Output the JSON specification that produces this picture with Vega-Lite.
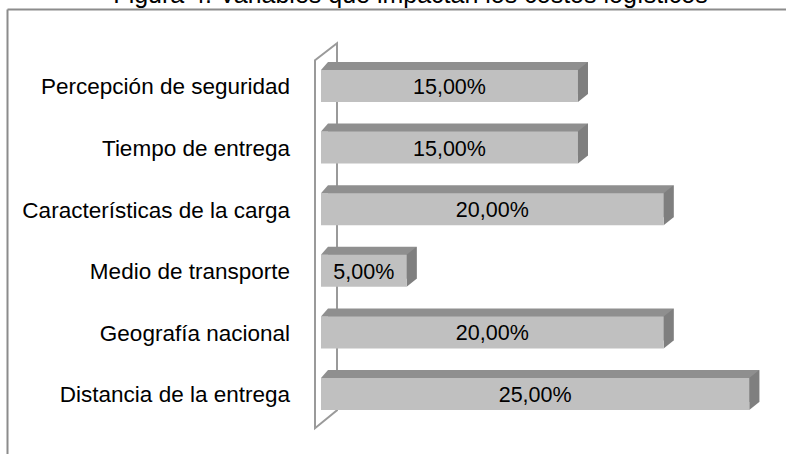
{
  "$schema": "https://vega.github.io/schema/vega-lite/v6.json",
  "autosize": {"type": "none"},
  "padding": {"left": 7, "top": 9, "right": 0, "bottom": 0},
  "width": 779,
  "height": 445,
  "background": "white",
  "title": {
    "text": "Figura 4. Variables que impactan los costos logísticos",
    "fontSize": 25,
    "font": "Liberation Sans",
    "fontWeight": "normal",
    "color": "#000000",
    "anchor": "middle",
    "baseline": "alphabetic",
    "offset": 0,
    "dy": 18.5,
    "dx": 14
  },
  "config": {
    "font": "Liberation Sans",
    "view": {"stroke": null},
    "locale": {"number": {"decimal": ",", "thousands": ".", "grouping": [3], "currency": ["", " €"]}}
  },
  "data": {
    "values": [
      {"variable": "Percepción de seguridad\u2002", "valor": 0.15},
      {"variable": "Tiempo de entrega", "valor": 0.15},
      {"variable": "Características de la carga", "valor": 0.20},
      {"variable": "Medio de transporte", "valor": 0.05},
      {"variable": "Geografía nacional", "valor": 0.20},
      {"variable": "Distancia de la entrega", "valor": 0.25}
    ]
  },
  "encoding": {
    "y": {
      "field": "variable",
      "type": "nominal",
      "sort": null,
      "title": null,
      "scale": {
        "domain": ["Percepción de seguridad\u2002", "Tiempo de entrega", "Características de la carga", "Medio de transporte", "Geografía nacional", "Distancia de la entrega"],
        "paddingInner": 0,
        "paddingOuter": 0.612,
        "align": 0.6127
      },
      "axis": {"orient": "left", "domain": true, "domainColor": "#8c8c8c", "domainWidth": 2, "labels": false, "ticks": false, "grid": false, "title": null}
    }
  },
  "layer": [
    {
      "layer": [
        {
          "data": {"values": [{"k": "wall"}]},
          "mark": {"type": "point", "shape": "M-6,-149L16,-166L16,201L-6,219Z", "size": 4, "filled": false, "color": "#9a9a9a", "strokeWidth": 2, "opacity": 1},
          "encoding": {
            "x": {"datum": 0, "type": "quantitative", "scale": {"domain": [-0.1833, 0.27145], "zero": false, "nice": false}, "axis": {"orient": "top", "domain": true, "domainColor": "#8c8c8c", "domainWidth": 2, "labels": false, "ticks": false, "grid": false, "title": null}},
            "y": {"datum": "Características de la carga", "type": "nominal"}
          }
        },
        {
          "mark": {"type": "bar", "color": "#8f8f8f", "size": 32, "xOffset": 10, "x2Offset": 7, "yOffset": -8},
          "encoding": {
            "x": {"field": "valor", "type": "quantitative", "scale": {"domain": [-0.1833, 0.27145], "zero": false, "nice": false}, "title": null},
            "x2": {"datum": 0}
          }
        },
        {
          "mark": {"type": "point", "shape": "M0,-16L10,-24L10,8L0,16Z", "size": 4, "filled": true, "color": "#7f7f7f", "opacity": 1, "strokeWidth": 0},
          "encoding": {
            "x": {"field": "valor", "type": "quantitative", "scale": {"domain": [-0.1833, 0.27145], "zero": false, "nice": false}, "title": null}
          }
        },
        {
          "mark": {"type": "bar", "color": "#c0c0c0", "size": 32},
          "encoding": {
            "x": {"field": "valor", "type": "quantitative", "scale": {"domain": [-0.1833, 0.27145], "zero": false, "nice": false}, "title": null},
            "x2": {"datum": 0}
          }
        },
        {
          "mark": {"type": "point", "shape": "M0,-16L7,-24L7,-16Z", "size": 4, "filled": true, "color": "#8f8f8f", "opacity": 1, "strokeWidth": 0},
          "encoding": {
            "x": {"datum": 0, "type": "quantitative", "scale": {"domain": [-0.1833, 0.27145], "zero": false, "nice": false}}
          }
        },
        {
          "mark": {"type": "text", "align": "right", "baseline": "alphabetic", "dx": -31, "dy": 8.5, "fontSize": 22.5, "font": "Liberation Sans", "color": "#000000"},
          "encoding": {
            "x": {"datum": 0, "type": "quantitative", "scale": {"domain": [-0.1833, 0.27145], "zero": false, "nice": false}},
            "text": {"field": "variable", "type": "nominal"}
          }
        }
      ]
    },
    {
      "mark": {"type": "text", "align": "center", "baseline": "alphabetic", "dy": 8, "fontSize": 21.5, "font": "Liberation Sans", "color": "#000000"},
      "encoding": {
        "x": {"field": "valor", "type": "quantitative", "scale": {"domain": [-0.3666, 0.5429], "zero": false, "nice": false}, "axis": null},
        "text": {"field": "valor", "type": "quantitative", "format": ".2%"}
      }
    }
  ],
  "resolve": {"scale": {"x": "independent"}}
}
